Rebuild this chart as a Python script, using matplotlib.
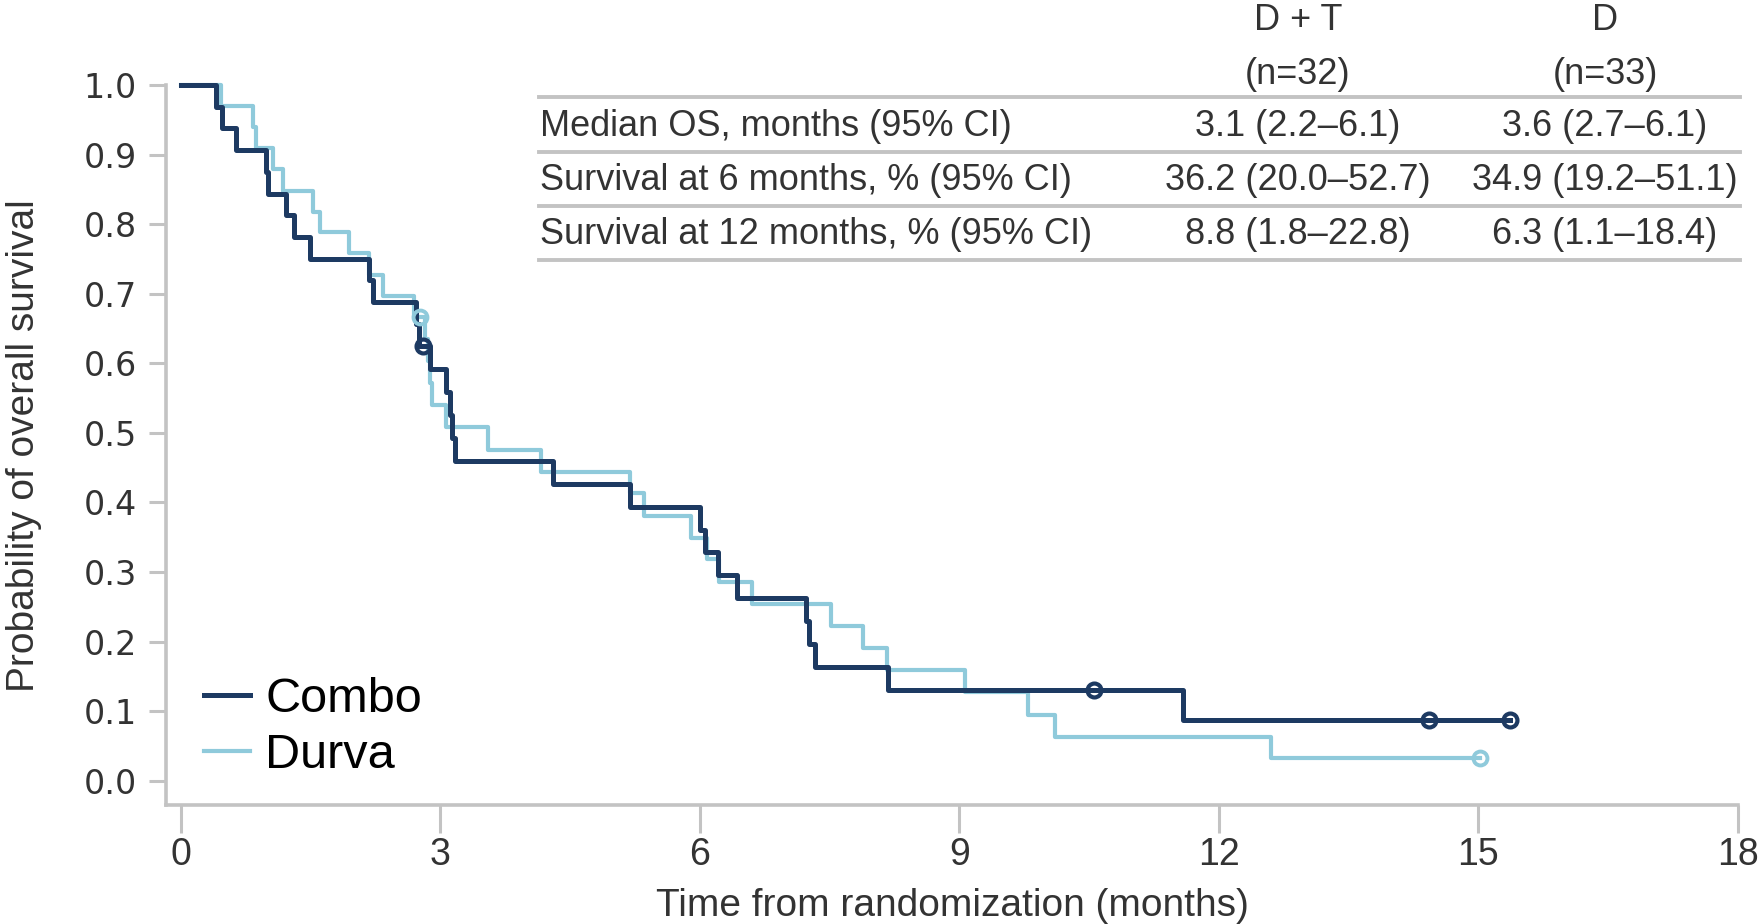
import matplotlib
matplotlib.use("Agg")
import matplotlib.pyplot as plt
from matplotlib.lines import Line2D

# Kaplan-Meier step data (months, survival probability)
combo_t = [0, 0.41, 0.48, 0.64, 0.99, 1.01, 1.22, 1.31, 1.49, 2.18, 2.22, 2.72, 2.76,
           2.88, 3.07, 3.11, 3.13, 3.17, 4.30, 5.19, 6.00, 6.06, 6.21, 6.43, 7.23, 7.26,
           7.33, 8.18, 11.59, 15.36]
combo_s = [1.0, 0.969, 0.938, 0.906, 0.875, 0.844, 0.813, 0.781, 0.750, 0.719, 0.688,
           0.656, 0.625, 0.592, 0.559, 0.526, 0.493, 0.460, 0.427, 0.394, 0.361, 0.328,
           0.295, 0.262, 0.229, 0.196, 0.164, 0.131, 0.087, 0.087]
combo_cens_t = [2.80, 10.56, 14.43, 15.36]
combo_cens_s = [0.625, 0.131, 0.087, 0.087]

durva_t = [0, 0.47, 0.83, 0.87, 1.07, 1.18, 1.53, 1.61, 1.95, 2.18, 2.34, 2.70, 2.82,
           2.86, 2.88, 2.90, 3.07, 3.55, 4.17, 5.19, 5.36, 5.90, 6.08, 6.22, 6.60, 7.52,
           7.89, 8.16, 9.07, 9.79, 10.10, 12.60, 15.02]
durva_s = [1.0, 0.970, 0.939, 0.909, 0.879, 0.848, 0.818, 0.788, 0.758, 0.727, 0.697,
           0.667, 0.635, 0.603, 0.571, 0.540, 0.508, 0.476, 0.444, 0.413, 0.381, 0.349,
           0.318, 0.286, 0.254, 0.222, 0.191, 0.159, 0.127, 0.095, 0.063, 0.032, 0.032]
durva_cens_t = [2.77, 15.02]
durva_cens_s = [0.667, 0.032]

# summary table
col_heads = ["D + T", "D"]
col_ns = ["(n=32)", "(n=33)"]
row_labels = ["Median OS, months (95% CI)",
              "Survival at 6 months, % (95% CI)",
              "Survival at 12 months, % (95% CI)"]
dt_vals = ["3.1 (2.2\u20136.1)", "36.2 (20.0\u201352.7)", "8.8 (1.8\u201322.8)"]
d_vals = ["3.6 (2.7\u20136.1)", "34.9 (19.2\u201351.1)", "6.3 (1.1\u201318.4)"]

dark = "#1d3a62"
light = "#8fcadb"
grey = "#c3c3c3"
txt = "#333333"
sans = ["Liberation Sans", "DejaVu Sans"]

W, H = 1762, 924
fig = plt.figure(figsize=(W / 100, H / 100), dpi=100)


def fx(px):
    return px / W


def fy(py):
    return 1 - py / H


ax = fig.add_axes([fx(166), fy(805), fx(1738) - fx(166), fy(85) - fy(805)])
ax.set_xlim(-0.17, 18)
ax.set_ylim(-0.035, 1.0)

ax.step(combo_t, combo_s, where="post", color=dark, lw=3.6, clip_on=False, zorder=4)
ax.step(durva_t, durva_s, where="post", color=light, lw=3.0, clip_on=False, zorder=3)
ax.plot(combo_cens_t, combo_cens_s, "o", ms=10, mfc="none", mec=dark, mew=3.0, zorder=5)
ax.plot(durva_cens_t, durva_cens_s, "o", ms=10, mfc="none", mec=light, mew=2.8, zorder=5)

for s in ["top", "right"]:
    ax.spines[s].set_visible(False)
for s in ["left", "bottom"]:
    ax.spines[s].set_color(grey)
    ax.spines[s].set_linewidth(2.6)
ax.spines["left"].set_bounds(-0.035, 1.0)

ax.set_xticks(range(0, 19, 3))
ax.set_yticks([i / 10 for i in range(11)])
ax.set_yticklabels(["%.1f" % (i / 10) for i in range(11)], fontsize=24, color=txt)
ax.set_xticklabels([str(v) for v in range(0, 19, 3)], family=sans, fontsize=27,
                   color=txt)
ax.tick_params(axis="y", length=12, width=2.2, color=grey, pad=9)
ax.tick_params(axis="x", length=20, width=2.2, color=grey, pad=3)

ax.set_xlabel("Time from randomization (months)", family=sans, fontsize=28,
              color=txt, labelpad=11)
fig.text(fx(24), fy(446), "Probability of overall survival", family=sans, fontsize=28,
         color=txt, rotation=90, ha="center", va="center")

# legend
leg_handles = [Line2D([], [], color=dark, lw=3.6), Line2D([], [], color=light, lw=3.0)]
ax.legend(leg_handles, ["Combo", "Durva"], loc="lower left",
          bbox_to_anchor=(fx(180), fy(802)), bbox_transform=fig.transFigure,
          frameon=False, prop={"family": sans, "size": 35},
          handlelength=0.95, handletextpad=0.3, labelspacing=0.22, borderpad=0)

# table
tsize = 26
col_x = [1298, 1605]
for x, h, n in zip(col_x, col_heads, col_ns):
    fig.text(fx(x), fy(21), h, family=sans, fontsize=tsize, color=txt,
             ha="center", va="center")
    fig.text(fx(x), fy(75), n, family=sans, fontsize=tsize, color=txt,
             ha="center", va="center")
row_y = [127, 181, 235]
for y, lab, a, b in zip(row_y, row_labels, dt_vals, d_vals):
    fig.text(fx(540), fy(y), lab, family=sans, fontsize=tsize, color=txt,
             ha="left", va="center")
    fig.text(fx(col_x[0]), fy(y), a, family=sans, fontsize=tsize, color=txt,
             ha="center", va="center")
    fig.text(fx(col_x[1]), fy(y), b, family=sans, fontsize=tsize, color=txt,
             ha="center", va="center")
for y in [97, 152, 206, 260]:
    fig.add_artist(Line2D([fx(539), fx(1740)], [fy(y), fy(y)], color=grey, lw=2.8))

fig.savefig("out.png", dpi=100)
